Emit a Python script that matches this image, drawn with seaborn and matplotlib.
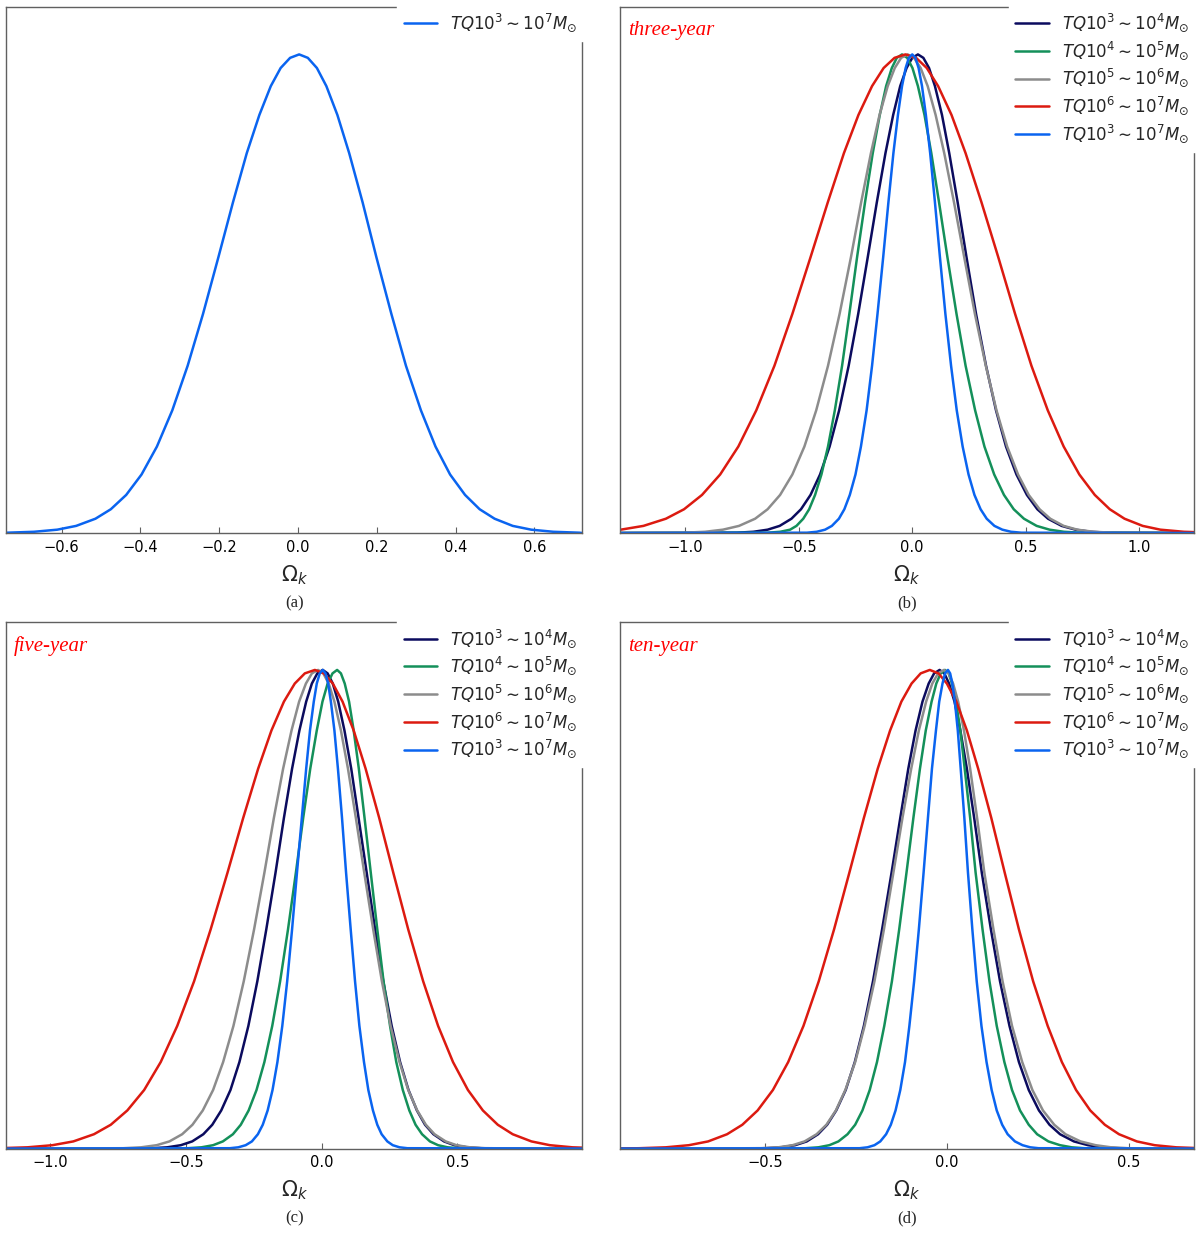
import matplotlib
matplotlib.use("Agg")
import matplotlib.pyplot as plt
import pandas as pd
import seaborn as sns

# ---------------- data ----------------
# normalised posterior density levels (peak = 1), ordered from the peak outwards;
# for every curve the x-position where it crosses each level was read on the left
# and on the right flank.
levels = [0.9928, 0.9716, 0.9338, 0.8735, 0.7936, 0.6909, 0.5762, 0.4578, 0.3495, 0.2563,
          0.1807, 0.1223, 0.0796, 0.0497, 0.0299, 0.0149, 0.0070, 0.0026, 0.0007]

series_labels = [r"$TQ10^3\sim10^4M_{\odot}$", r"$TQ10^4\sim10^5M_{\odot}$",
                 r"$TQ10^5\sim10^6M_{\odot}$", r"$TQ10^6\sim10^7M_{\odot}$",
                 r"$TQ10^3\sim10^7M_{\odot}$"]
series_colors = ["#0b0b5e", "#14905a", "#8c8c8c", "#dc1a10", "#0a64f0"]

panel_titles = ["", "three-year", "five-year", "ten-year"]
panel_captions = ["(a)", "(b)", "(c)", "(d)"]
panel_xlims = [(-0.741, 0.722), (-1.287, 1.241), (-1.163, 0.961), (-0.898, 0.679)]
panel_ticks = [[-0.6, -0.4, -0.2, 0.0, 0.2, 0.4, 0.6],
               [-1.0, -0.5, 0.0, 0.5, 1.0],
               [-1.0, -0.5, 0.0, 0.5],
               [-0.5, 0.0, 0.5]]

# panel (a)
a_blue_peak = 0.003
a_blue_left = [-0.020, -0.044, -0.069, -0.098, -0.130, -0.165, -0.202, -0.241, -0.280, -0.319,
               -0.358, -0.397, -0.436, -0.475, -0.514, -0.563, -0.611, -0.670, -0.738]
a_blue_right = [0.025, 0.048, 0.072, 0.100, 0.130, 0.164, 0.199, 0.237, 0.274, 0.312,
                0.349, 0.386, 0.424, 0.461, 0.499, 0.545, 0.592, 0.648, 0.714]

# panel (b): three-year
b_navy_peak = 0.025
b_navy_left = [0.000, -0.025, -0.053, -0.084, -0.118, -0.156, -0.196, -0.238, -0.280, -0.322,
               -0.364, -0.406, -0.448, -0.490, -0.532, -0.584, -0.637, -0.700, -0.773]
b_navy_right = [0.049, 0.074, 0.100, 0.131, 0.163, 0.200, 0.239, 0.281, 0.325, 0.369,
                0.413, 0.459, 0.505, 0.551, 0.598, 0.658, 0.719, 0.787, 0.864]
b_green_peak = -0.045
b_green_left = [-0.068, -0.090, -0.115, -0.143, -0.174, -0.208, -0.243, -0.277, -0.309, -0.341,
                -0.371, -0.400, -0.428, -0.454, -0.480, -0.510, -0.538, -0.582, -0.637]
b_green_right = [-0.022, 0.001, 0.025, 0.054, 0.084, 0.118, 0.155, 0.195, 0.235, 0.277,
                 0.318, 0.361, 0.404, 0.447, 0.492, 0.548, 0.605, 0.668, 0.740]
b_gray_peak = -0.020
b_gray_left = [-0.049, -0.077, -0.108, -0.144, -0.182, -0.225, -0.270, -0.320, -0.371, -0.423,
               -0.475, -0.528, -0.582, -0.637, -0.692, -0.763, -0.834, -0.913, -1.004]
b_gray_right = [0.008, 0.037, 0.068, 0.103, 0.141, 0.184, 0.229, 0.276, 0.324, 0.371,
                0.418, 0.466, 0.513, 0.561, 0.608, 0.667, 0.727, 0.798, 0.881]
b_red_peak = -0.030
b_red_left = [-0.078, -0.126, -0.177, -0.237, -0.301, -0.372, -0.448, -0.528, -0.607, -0.687,
              -0.766, -0.846, -0.926, -1.005, -1.085, -1.184, -1.284, -1.403, -1.542]
b_red_right = [0.017, 0.064, 0.114, 0.173, 0.235, 0.305, 0.379, 0.453, 0.525, 0.597,
               0.667, 0.736, 0.804, 0.870, 0.935, 1.015, 1.093, 1.197, 1.322]
b_blue_peak = 0.000
b_blue_left = [-0.015, -0.029, -0.045, -0.063, -0.083, -0.105, -0.128, -0.153, -0.177, -0.201,
               -0.226, -0.250, -0.275, -0.299, -0.323, -0.354, -0.384, -0.421, -0.464]
b_blue_right = [0.014, 0.028, 0.043, 0.060, 0.079, 0.100, 0.122, 0.146, 0.171, 0.196,
                0.222, 0.248, 0.274, 0.301, 0.328, 0.362, 0.397, 0.435, 0.480]

# panel (c): five-year
c_navy_peak = 0.004
c_navy_left = [-0.016, -0.036, -0.057, -0.082, -0.109, -0.139, -0.170, -0.204, -0.237, -0.270,
               -0.303, -0.336, -0.370, -0.403, -0.436, -0.477, -0.519, -0.569, -0.627]
c_navy_right = [0.022, 0.041, 0.061, 0.084, 0.109, 0.136, 0.166, 0.197, 0.227, 0.258,
                0.289, 0.320, 0.351, 0.381, 0.412, 0.451, 0.489, 0.535, 0.589]
c_green_peak = 0.057
c_green_left = [0.040, 0.022, 0.003, -0.018, -0.042, -0.068, -0.095, -0.124, -0.153, -0.182,
                -0.211, -0.240, -0.269, -0.298, -0.327, -0.364, -0.400, -0.443, -0.494]
c_green_right = [0.071, 0.085, 0.101, 0.118, 0.137, 0.158, 0.181, 0.205, 0.228, 0.252,
                 0.275, 0.299, 0.323, 0.346, 0.370, 0.399, 0.429, 0.464, 0.505]
c_gray_peak = -0.013
c_gray_left = [-0.036, -0.058, -0.083, -0.111, -0.142, -0.176, -0.211, -0.249, -0.287, -0.325,
               -0.363, -0.400, -0.438, -0.476, -0.514, -0.561, -0.608, -0.665, -0.731]
c_gray_right = [0.006, 0.026, 0.047, 0.071, 0.097, 0.126, 0.157, 0.190, 0.222, 0.254,
                0.287, 0.319, 0.352, 0.384, 0.416, 0.457, 0.497, 0.546, 0.603]
c_red_peak = -0.025
c_red_left = [-0.062, -0.099, -0.139, -0.185, -0.234, -0.289, -0.347, -0.409, -0.470, -0.532,
              -0.593, -0.654, -0.716, -0.777, -0.839, -0.915, -0.992, -1.084, -1.192]
c_red_right = [0.008, 0.041, 0.077, 0.118, 0.162, 0.212, 0.264, 0.319, 0.374, 0.429,
               0.484, 0.539, 0.594, 0.649, 0.704, 0.773, 0.841, 0.924, 1.020]
c_blue_peak = 0.004
c_blue_left = [-0.007, -0.018, -0.029, -0.043, -0.057, -0.073, -0.091, -0.109, -0.127, -0.145,
               -0.163, -0.181, -0.199, -0.217, -0.235, -0.257, -0.280, -0.307, -0.338]
c_blue_right = [0.014, 0.024, 0.034, 0.047, 0.060, 0.075, 0.090, 0.107, 0.123, 0.139,
                0.156, 0.172, 0.189, 0.205, 0.221, 0.242, 0.262, 0.287, 0.316]

# panel (d): ten-year
d_navy_peak = -0.020
d_navy_left = [-0.035, -0.050, -0.067, -0.086, -0.106, -0.128, -0.152, -0.178, -0.203, -0.228,
               -0.253, -0.278, -0.304, -0.329, -0.354, -0.385, -0.417, -0.455, -0.499]
d_navy_right = [-0.007, 0.006, 0.021, 0.037, 0.055, 0.075, 0.096, 0.121, 0.146, 0.172,
                0.198, 0.225, 0.253, 0.282, 0.311, 0.349, 0.388, 0.428, 0.473]
d_green_peak = -0.005
d_green_left = [-0.017, -0.029, -0.042, -0.058, -0.074, -0.092, -0.111, -0.131, -0.151, -0.172,
                -0.192, -0.212, -0.232, -0.252, -0.273, -0.298, -0.323, -0.353, -0.389]
d_green_right = [0.005, 0.014, 0.025, 0.037, 0.049, 0.064, 0.079, 0.098, 0.117, 0.137,
                 0.158, 0.179, 0.201, 0.225, 0.248, 0.279, 0.311, 0.343, 0.378]
d_gray_peak = -0.008
d_gray_left = [-0.024, -0.040, -0.057, -0.077, -0.098, -0.122, -0.147, -0.173, -0.199, -0.226,
               -0.252, -0.279, -0.305, -0.331, -0.358, -0.391, -0.424, -0.463, -0.510]
d_gray_right = [0.005, 0.017, 0.031, 0.047, 0.064, 0.083, 0.103, 0.128, 0.153, 0.179,
                0.207, 0.235, 0.264, 0.295, 0.326, 0.367, 0.409, 0.451, 0.498]
d_red_peak = -0.047
d_red_left = [-0.072, -0.097, -0.125, -0.156, -0.190, -0.228, -0.268, -0.310, -0.352, -0.394,
              -0.436, -0.478, -0.520, -0.562, -0.604, -0.656, -0.709, -0.772, -0.845]
d_red_right = [-0.023, 0.000, 0.026, 0.055, 0.086, 0.122, 0.159, 0.198, 0.237, 0.277,
               0.316, 0.355, 0.394, 0.434, 0.473, 0.522, 0.571, 0.630, 0.699]
d_blue_peak = 0.003
d_blue_left = [-0.005, -0.012, -0.021, -0.030, -0.041, -0.052, -0.064, -0.077, -0.090, -0.103,
               -0.115, -0.128, -0.141, -0.154, -0.167, -0.183, -0.199, -0.218, -0.240]
d_blue_right = [0.009, 0.015, 0.022, 0.030, 0.038, 0.048, 0.058, 0.070, 0.082, 0.095,
                0.109, 0.123, 0.137, 0.152, 0.167, 0.187, 0.208, 0.229, 0.252]

panel_curves = [
    [(4, a_blue_left, a_blue_peak, a_blue_right)],
    [(0, b_navy_left, b_navy_peak, b_navy_right), (1, b_green_left, b_green_peak, b_green_right),
     (2, b_gray_left, b_gray_peak, b_gray_right), (3, b_red_left, b_red_peak, b_red_right),
     (4, b_blue_left, b_blue_peak, b_blue_right)],
    [(0, c_navy_left, c_navy_peak, c_navy_right), (1, c_green_left, c_green_peak, c_green_right),
     (2, c_gray_left, c_gray_peak, c_gray_right), (3, c_red_left, c_red_peak, c_red_right),
     (4, c_blue_left, c_blue_peak, c_blue_right)],
    [(0, d_navy_left, d_navy_peak, d_navy_right), (1, d_green_left, d_green_peak, d_green_right),
     (2, d_gray_left, d_gray_peak, d_gray_right), (3, d_red_left, d_red_peak, d_red_right),
     (4, d_blue_left, d_blue_peak, d_blue_right)],
]

# ---------------- style ----------------
sns.set_theme(style="white")
plt.rcParams["font.family"] = ["DejaVu Sans"]
plt.rcParams["mathtext.fontset"] = "dejavusans"

fig = plt.figure(figsize=(12, 12.35), dpi=100)
positions = [[0.005, 0.5684, 0.4804, 0.4263],
             [0.5167, 0.5684, 0.4783, 0.4263],
             [0.005, 0.0700, 0.4804, 0.4263],
             [0.5167, 0.0700, 0.4783, 0.4263]]
spine_color = "#606060"

for p in range(4):
    ax = fig.add_axes(positions[p])
    lo, hi = panel_xlims[p]
    for idx, left, peak, right in panel_curves[p]:
        xs = [min(lo, left[-1])] + list(left)[::-1] + [peak] + list(right) + [max(hi, right[-1])]
        ys = [0.0] + list(levels)[::-1] + [1.0] + list(levels) + [0.0]
        df = pd.DataFrame({"x": xs, "y": ys})
        sns.lineplot(data=df, x="x", y="y", ax=ax, sort=False, estimator=None,
                     color=series_colors[idx], lw=1.8, label=series_labels[idx])
    ax.set_xlim(lo, hi)
    ax.set_ylim(0, 1.1)
    ax.set_xticks(panel_ticks[p])
    ax.set_yticks([])
    ax.set_ylabel("")
    ax.set_xlabel(r"$\Omega_k$", fontsize=15)
    ax.xaxis.set_label_coords(0.5, -0.057)
    ax.tick_params(axis="x", direction="in", length=4, width=0.8, color=spine_color,
                   labelsize=10.5, pad=5, bottom=True, labelcolor="black")
    for s in ax.spines.values():
        s.set_color(spine_color)
        s.set_linewidth(1.0)
    leg = ax.legend(loc="upper right", bbox_to_anchor=(1.003, 1.003), borderaxespad=0,
                    fontsize=12, frameon=True, fancybox=False, framealpha=1.0,
                    handlelength=2.0, labelspacing=0.32)
    leg.get_frame().set_facecolor("white")
    leg.get_frame().set_edgecolor("white")
    if panel_titles[p]:
        ax.text(0.014, 0.954, panel_titles[p], transform=ax.transAxes, color="red",
                fontsize=15, style="italic", family="Liberation Serif", va="center", ha="left")
    ax.text(0.5, -0.133, panel_captions[p], transform=ax.transAxes, ha="center",
            va="center", fontsize=12, family="Liberation Serif")

fig.savefig("out.png", dpi=100)
